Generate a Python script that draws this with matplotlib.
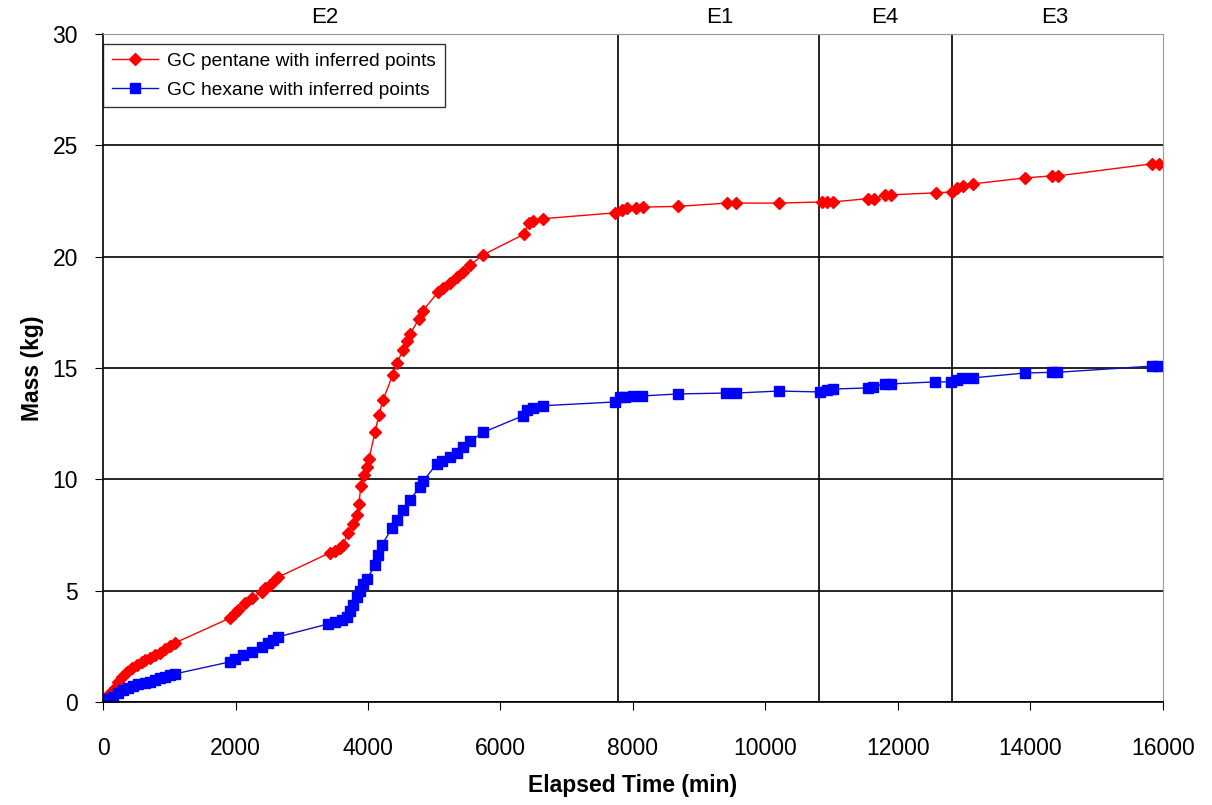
import numpy as np
import matplotlib.pyplot as plt

plt.rcParams['font.family'] = ['Liberation Sans', 'DejaVu Sans']

# GC pentane (red diamonds)
pent_t = [0, 30, 106, 181, 226, 287, 362, 438, 513, 589, 634, 709, 785, 860, 936, 1011, 1086,
          1916, 1992, 2037, 2143, 2248, 2399, 2445, 2520, 2596, 2641,
          3425, 3501, 3576, 3622, 3697, 3772, 3833, 3863, 3893, 3938, 3984, 4014, 4105, 4165,
          4225, 4376, 4436, 4527, 4587, 4633, 4768, 4829,
          5055, 5130, 5236, 5342, 5432, 5538, 5734,
          6353, 6428, 6489, 6640,
          7726, 7832, 7907, 8043, 8149, 8677, 9416, 9552, 10201,
          10850, 10925, 11016, 11544, 11635, 11800, 11891, 12570, 12812, 12888, 12979, 13129,
          13913, 14320, 14410, 15829, 15935]
pent_m = [0.0, 0.09, 0.4, 0.63, 0.9, 1.12, 1.35, 1.53, 1.66, 1.8, 1.89, 1.98, 2.1, 2.2, 2.38, 2.5, 2.65,
          3.77, 4.0, 4.13, 4.44, 4.67, 4.94, 5.1, 5.25, 5.48, 5.6,
          6.7, 6.8, 6.9, 7.05, 7.6, 8.0, 8.4, 8.9, 9.7, 10.2, 10.55, 10.9, 12.1, 12.9,
          13.55, 14.7, 15.2, 15.8, 16.2, 16.5, 17.2, 17.56,
          18.4, 18.6, 18.8, 19.1, 19.3, 19.6, 20.07,
          21.0, 21.5, 21.6, 21.7,
          21.96, 22.1, 22.18, 22.2, 22.22, 22.25, 22.4, 22.4, 22.4,
          22.45, 22.45, 22.45, 22.6, 22.6, 22.77, 22.77, 22.86, 22.9, 23.08, 23.17, 23.26,
          23.53, 23.62, 23.62, 24.16, 24.16]

# GC hexane (blue squares)
hex_t = [0, 75, 151, 226, 302, 377, 453, 528, 634, 709, 785, 860, 936, 1011, 1086,
         1916, 1992, 2113, 2248, 2399, 2490, 2565, 2641,
         3395, 3500, 3606, 3682, 3727, 3772, 3833, 3878, 3923, 3984, 4105, 4150, 4210,
         4361, 4436, 4527, 4633, 4784, 4829,
         5040, 5115, 5236, 5342, 5432, 5538, 5734,
         6338, 6398, 6489, 6640,
         7726, 7802, 7877, 7998, 8134, 8677, 9401, 9552, 10201,
         10820, 10925, 11016, 11544, 11620, 11800, 11891, 12555, 12797, 12888, 12963, 13129,
         13913, 14320, 14395, 15829, 15920]
hex_m = [0.09, 0.13, 0.22, 0.4, 0.54, 0.63, 0.72, 0.8, 0.85, 0.9, 0.99, 1.08, 1.12, 1.21, 1.26,
         1.8, 1.93, 2.1, 2.25, 2.47, 2.65, 2.78, 2.92,
         3.5, 3.6, 3.7, 3.8, 4.1, 4.35, 4.7, 5.0, 5.3, 5.5, 6.15, 6.6, 7.05,
         7.8, 8.17, 8.6, 9.07, 9.65, 9.9,
         10.7, 10.8, 11.0, 11.2, 11.45, 11.7, 12.1,
         12.85, 13.1, 13.2, 13.3,
         13.47, 13.7, 13.7, 13.74, 13.74, 13.83, 13.87, 13.87, 13.96,
         13.92, 14.0, 14.05, 14.1, 14.15, 14.28, 14.28, 14.37, 14.37, 14.46, 14.55, 14.55,
         14.77, 14.8, 14.8, 15.08, 15.08]

# experiment boundaries and labels
bounds = [7773, 10806, 12813]
exp_names = ['E2', 'E1', 'E4', 'E3']
exp_pos = [3350, 9310, 11800, 14366]

fig = plt.figure(figsize=(12.12, 8.05), dpi=100)
ax = fig.add_axes([0.085, 0.128, 0.8745, 0.83])

ax.plot(pent_t, pent_m, color='red', lw=1, marker='D', ms=6, mfc='red', mec='red',
        label='GC pentane with inferred points')
ax.plot(hex_t, hex_m, color='#1010c0', lw=1, marker='s', ms=6.5, mfc='blue', mec='blue',
        label='GC hexane with inferred points')

for b in bounds:
    ax.axvline(b, color='black', lw=1.2, zorder=0)
for n, p in zip(exp_names, exp_pos):
    ax.text(p, 30.25, n, ha='center', va='bottom', fontsize=16)

ax.set_xlim(0, 16000)
ax.set_ylim(0, 30)
ax.set_xticks(np.arange(0, 16001, 2000))
ax.set_yticks(np.arange(0, 31, 5))
ax.yaxis.grid(True, color='black', lw=1.2)
ax.set_axisbelow(True)
ax.tick_params(labelsize=16.5, direction='out', length=6, color='black')
ax.tick_params(axis='x', pad=19)
ax.tick_params(axis='y', pad=12)
for s in ['top', 'right']:
    ax.spines[s].set_color('#999999')
ax.spines['left'].set_linewidth(1.2)
ax.spines['bottom'].set_linewidth(1.2)

ax.set_xlabel('Elapsed Time (min)', fontsize=16.5, fontweight='bold', labelpad=10)
ax.set_ylabel('Mass (kg)', fontsize=16.5, fontweight='bold', labelpad=6)

leg = ax.legend(loc='upper left', fontsize=13.8, frameon=True, fancybox=False,
                edgecolor='black', borderaxespad=0, handlelength=2.4, labelspacing=0.6,
                handletextpad=0.5, borderpad=0.45, bbox_to_anchor=(0.0, 1 - 10 / 668))
leg.get_frame().set_linewidth(1.0)

fig.savefig('out.png', dpi=100)
